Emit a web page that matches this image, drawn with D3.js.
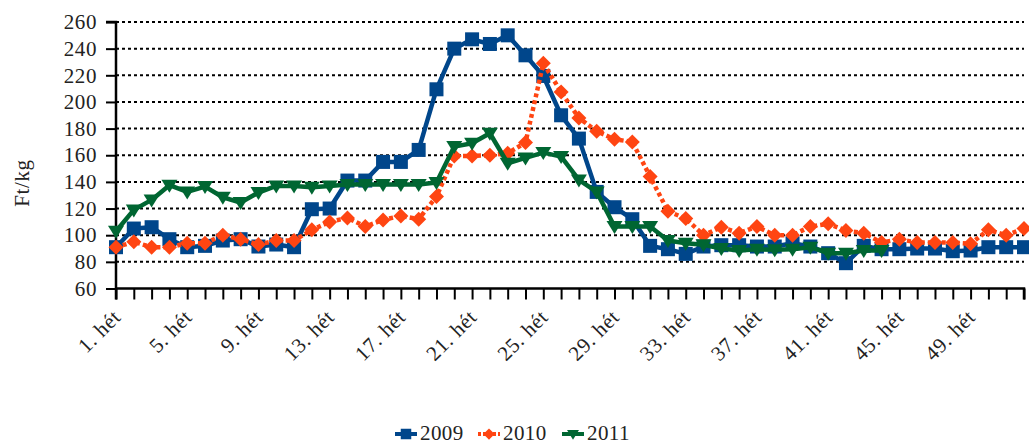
<!DOCTYPE html>
<html>
<head>
<meta charset="utf-8">
<script src="https://cdn.jsdelivr.net/npm/d3@7"></script>
<style>
  body { margin: 0; background: #fff; }
  text { font-family: "Liberation Serif", "DejaVu Serif", serif; fill: #222; }
</style>
</head>
<body>
<div id="chart"></div>
<script>
// weekly prices, Ft/kg
const weeks = d3.range(1, 53);
const s2009 = [91,105,106,97,91,92,96,97,91.5,93,91,119.5,120,141,141,155,155,164,209.5,240,
  247,243.5,250,235,219.5,190,172.5,132.5,121,112,92,89.5,86,91.5,92.5,92.5,91.5,91.5,94,91.5,
  86.5,79,92,89.5,89.5,90,90,88,88.5,91,91,91];
const s2010 = [91,95,91,91,94,94,100,97,93,96,96,104,110,113,106.5,111.5,114.5,112,129,159.5,
  159.5,160,161.5,169.5,229,207.5,188,178,172,170,144,118,112.5,100,106,101.5,106.5,100,100,106.5,
  108.5,103.5,101.5,94.5,97,94.5,94.5,94.5,93.5,104,100,105];
const s2011 = [103,119,126.5,137.5,132.5,136.5,128.5,124.5,132,137,137,136,137,138,138,138,138,138,139.5,166.5,
  169,176.5,154,158,162,159,141.5,132.5,106.5,106.5,106.5,96,94,92.75,90,88.5,89.5,89,89.5,91,
  86.5,86.5,88.5,88.5];
const yTicks = [60,80,100,120,140,160,180,200,220,240,260];
const labelWeeks = [1,5,9,13,17,21,25,29,33,37,41,45,49];

const width = 1029, height = 446;
const margin = {top: 22, left: 116};
const fontSize = '21px';

const svg = d3.select('#chart').append('svg')
    .attr('width', width)
    .attr('height', height);

const x = d3.scaleLinear().domain([1, 52]).range([margin.left, 1024]);
const y = d3.scaleLinear().domain([60, 260]).range([288.5, margin.top]);

// dotted grid
svg.append('g')
    .selectAll('line')
    .data(yTicks.filter(d => d > 60))
    .join('line')
    .attr('x1', x(1)).attr('x2', x(52))
    .attr('y1', d => y(d)).attr('y2', d => y(d))
    .attr('stroke', '#000')
    .attr('stroke-width', 2)
    .attr('stroke-dasharray', '3,3');

// y axis
const yAxis = svg.append('g')
    .attr('transform', `translate(${x(1)},0)`)
    .call(d3.axisLeft(y).tickValues(yTicks).tickSize(10).tickPadding(9));
yAxis.select('.domain').attr('stroke-width', 2.5).attr('d', `M-10,${y(260)}H0V${y(60) + 11}`);
yAxis.selectAll('.tick line').attr('stroke-width', 2);
yAxis.selectAll('.tick text')
    .attr('font-family', '"Liberation Serif", serif')
    .style('font-size', fontSize)
    .style('letter-spacing', '0.6px')
    .attr('fill', '#222');

// x axis
const xAxis = svg.append('g')
    .attr('transform', `translate(0,${y(60)})`)
    .call(d3.axisBottom(x).tickValues(weeks).tickSize(11).tickFormat(''));
xAxis.select('.domain').attr('stroke-width', 2.5).attr('d', `M${x(1)},0H${x(52)}V11`);
xAxis.selectAll('.tick line').attr('stroke-width', 2);

svg.append('g')
    .selectAll('text')
    .data(labelWeeks)
    .join('text')
    .attr('transform', d => `translate(${x(d) + 6},${y(60) + 30}) rotate(-45)`)
    .attr('text-anchor', 'end')
    .style('font-size', fontSize)
    .style('letter-spacing', '0.6px')
    .text(d => `${d}. hét`);

svg.append('text')
    .attr('transform', 'translate(29,183) rotate(-90)')
    .attr('text-anchor', 'middle')
    .style('font-size', fontSize)
    .style('letter-spacing', '0.6px')
    .text('Ft/kg');

const series = [
  {name: '2009', values: s2009, color: '#00468B', dash: null, shape: 'square'},
  {name: '2010', values: s2010, color: '#FF4512', dash: '4,3', shape: 'diamond'},
  {name: '2011', values: s2011, color: '#006632', dash: null, shape: 'triangle'}
];

const line = d3.line().x((d, i) => x(i + 1)).y(d => y(d));

function marker(sel, shape, color, cx, cy) {
  if (shape === 'square') {
    sel.append('rect').attr('x', cx - 7).attr('y', cy - 7)
      .attr('width', 14).attr('height', 14).attr('fill', color);
  } else if (shape === 'diamond') {
    sel.append('path').attr('d', `M${cx},${cy - 7.5}L${cx + 7.5},${cy}L${cx},${cy + 7.5}L${cx - 7.5},${cy}Z`)
      .attr('fill', color);
  } else {
    sel.append('path').attr('d', `M${cx - 8},${cy - 5.5}L${cx + 8},${cy - 5.5}L${cx},${cy + 7.5}Z`)
      .attr('fill', color);
  }
}

series.forEach(s => {
  const g = svg.append('g');
  g.append('path')
    .datum(s.values)
    .attr('d', line)
    .attr('fill', 'none')
    .attr('stroke', s.color)
    .attr('stroke-width', 4.5)
    .attr('stroke-dasharray', s.dash)
    .attr('stroke-linejoin', 'round');
  s.values.forEach((v, i) => marker(g, s.shape, s.color, x(i + 1), y(v)));
});

// legend
const legendX = [395, 478, 562];
series.forEach((s, i) => {
  const lx = legendX[i], ly = 434;
  svg.append('line')
    .attr('x1', lx).attr('x2', lx + 22).attr('y1', ly).attr('y2', ly)
    .attr('stroke', s.color).attr('stroke-width', 4)
    .attr('stroke-dasharray', s.dash ? '3,2' : null);
  const sm = svg.append('g').attr('transform', `translate(${lx + 11},${ly}) scale(0.75) translate(${-(lx + 11)},${-ly})`);
  marker(sm, s.shape, s.color, lx + 11, ly);
  svg.append('text')
    .attr('x', lx + 25).attr('y', ly + 6)
    .style('font-size', fontSize)
    .style('letter-spacing', '0.4px')
    .text(s.name);
});
</script>
</body>
</html>
